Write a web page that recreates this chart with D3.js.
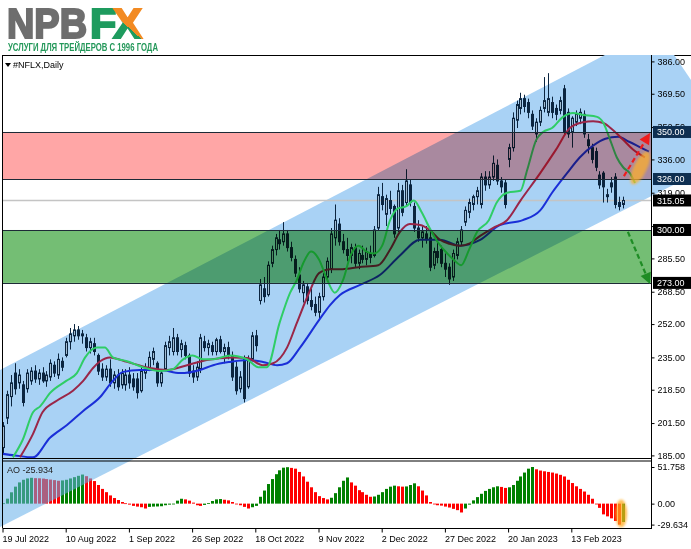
<!DOCTYPE html>
<html><head><meta charset="utf-8">
<script src="https://cdn.jsdelivr.net/npm/d3@7"></script>
<style>html,body{margin:0;padding:0;background:#fff;}svg{display:block;}text{font-family:"Liberation Sans",Arial,sans-serif;}</style>
</head><body><svg id="c" width="691" height="549"></svg>
<script>
// ---------- DATA ----------
const symbolLabel = "#NFLX,Daily";
const aoLabel = "AO -25.934";
const dateLabels = ["19 Jul 2022","10 Aug 2022","1 Sep 2022","26 Sep 2022","18 Oct 2022","9 Nov 2022","2 Dec 2022","27 Dec 2022","20 Jan 2023","13 Feb 2023"];
const dateLabelBars = [0,16,32,48,64,80,96,112,128,144];
const priceTicks = [386,369.5,352.5,336,319,302,285.5,268.5,252,235,218.5,201.5,185];
const aoTicks = [51.758,0,-29.634];
const redZone = [326,350];
const greenZone = [273,300];
const levels = [350,326,300,273];
const lastPrice = 315.05;

const open = [189,204,215,227,222,221,219,223,228,224,227,223,225,231,226,233,236,243,246,249,246,245,240,242,236,229,225,229,222,226,221,221,226,224,224,218,227,229,234,232,222,229,240,238,245,239,241,236,228,225,229,243,240,241,238,244,238,240,236,230,219,234,220,234,246,264,270,267,283,290,295,294,298,291,285,277,268,271,264,262,258,266,276,280,296,303,294,290,287,291,283,287,285,288,287,301,317,308,315,312,301,320,314,323,312,301,296,298,296,282,289,290,283,281,276,287,294,304,309,313,317,313,327,323,327,333,325,324,336,342,356,362,367,365,359,349,355,362,360,365,362,361,372,360,350,355,357,359,346,342,340,328,329,317,324,327,314,313];
const high = [202,218,226,232,229,223,229,230,231,229,230,228,234,233,237,235,245,250,252,251,249,247,245,245,237,232,231,234,228,229,229,229,230,227,227,230,232,238,240,233,229,243,246,250,247,244,243,237,231,233,247,246,244,243,245,246,242,243,238,233,228,236,236,248,249,275,276,284,292,298,300,304,300,294,287,281,274,273,270,266,268,278,286,301,313,306,298,296,293,293,290,292,291,292,302,322,324,318,320,313,324,323,331,326,314,305,302,302,299,291,294,292,288,283,290,296,302,312,316,318,322,329,330,330,338,336,327,326,344,360,366,370,369,367,361,357,363,378,380,368,364,368,374,362,358,361,362,361,349,344,342,330,330,321,327,329,317,317];
const low = [186,201,210,216,219,210,217,221,222,221,222,220,223,225,224,228,235,239,243,244,242,238,237,236,226,223,223,220,219,218,219,218,219,218,214,217,224,228,231,220,220,228,236,236,236,235,234,225,222,223,227,238,236,236,236,237,232,234,223,216,217,212,219,233,238,262,263,266,281,287,290,292,289,284,276,268,263,262,259,256,254,264,275,278,292,292,288,284,283,281,280,283,282,283,286,300,310,302,308,296,299,307,312,312,299,294,291,293,279,280,283,281,276,272,274,285,292,302,306,310,313,311,320,321,325,323,319,311,332,340,352,359,360,357,351,345,353,360,358,357,356,359,348,347,342,353,354,347,339,334,330,321,314,314,319,311,310,311];
const close = [200,216,222,219,226,212,227,228,224,227,223,226,232,227,234,230,243,247,249,246,247,240,243,238,228,225,229,222,226,220,227,226,222,220,217,228,229,235,238,222,227,241,243,245,238,242,236,227,225,230,245,240,242,238,244,238,240,236,225,218,225,214,234,246,241,272,266,282,290,296,293,298,291,286,278,270,272,264,261,258,266,276,284,298,305,294,290,287,291,283,288,285,289,286,300,318,313,316,311,298,320,309,325,314,301,296,299,295,281,289,286,283,280,275,288,294,300,310,314,317,320,327,323,327,334,325,322,313,342,357,364,367,363,360,353,355,361,366,367,360,359,366,350,349,357,359,360,349,343,336,332,323,322,318,322,313,312,315.05];

const ao = [0.5,7,16,24,30,33.7,35.6,36.5,36,35.8,35.4,34.7,34,33.2,32.3,32.8,33.7,35.6,37.4,39.3,41.1,38.8,35.6,31.9,26.3,20.8,16.2,11.6,7.9,5.1,2.3,0.5,-1.4,-3.2,-4.2,-5.1,-6.9,-4.6,-4.2,-4.0,-3.7,-2.3,-1.4,-0.5,4.2,6.9,6.0,4.2,1.4,-2.3,-3.2,-1.8,0.9,3.7,6.0,6.5,5.5,4.6,2.3,-0.5,-2.3,-4.6,-6.9,-5.1,-3.2,9.7,18.5,27.7,34.7,41.6,47.1,50.8,51.5,50.5,49.4,44.8,38.4,31,23.1,16.2,10.6,7.9,6,8.3,14.8,23.1,32.3,37,30,25.4,19,16.2,12.5,9.7,10.1,12.5,16.2,20.8,24,25.4,24.5,24,24.3,26.3,28.7,24.5,18.5,11.6,2.3,-0.9,-2.3,-2.8,-4.2,-5.5,-7.4,-9.2,-12.5,-6.9,-1.4,4.6,9.2,13.9,18,20.8,23.1,24.5,23.6,22.2,23.1,26.3,32.3,38.4,43.9,49.4,51.758,48.5,46.7,45.7,44.8,43.9,42.5,40.7,38.4,33.7,29.1,24.5,20.8,17.1,12.5,6.9,-0.5,-6,-15.2,-18,-20.8,-24.5,-29.634,-25.934];

// Alligator lines: [bar index, price]
const lips = [[2.5,184],[5,193],[7.6,207],[9.4,210],[12,217],[16,223],[18.7,227],[20.8,235],[23.8,240],[25.8,240],[27.8,235],[31.4,233],[35.4,230],[39.7,228],[43,229],[45.6,234],[48,236],[50.6,234],[53,234],[57.5,236],[61.8,234],[64.6,230],[66.8,230],[70,252.5],[72.7,268],[74.4,274.5],[76,283],[78,289],[80,285],[82,275],[84,268],[86,274],[88,287],[90,292],[92,289],[94,288],[96,292],[98,305],[100,311],[102,312],[104,315],[106,309],[108,301],[110,294],[112,289],[114,285],[116,282],[118,290],[120,299],[123,305],[125,314],[127.6,319],[131,320],[132.7,330.6],[135,346],[136.7,350],[139,352],[141.8,357.7],[144.3,359.7],[146.8,358.7],[150.4,357.7],[152,354.6],[153.7,346],[155.4,337],[157,332],[158.7,329],[160,324]];
const teeth = [[4.3,184],[7.6,196],[10,207],[13.7,213],[17.7,218],[20.3,223],[22.8,229.6],[24.6,233],[27,235],[31.4,232.7],[37.2,229.6],[41.5,228.6],[46.6,231],[51.6,233.7],[58.2,235],[61.8,234.7],[65.8,231],[68.4,232],[71.9,240],[74.4,252.6],[77.7,269],[80,278],[83,280],[86,280],[90,281],[95,282],[98,290],[100.5,299],[103,303],[105.6,302.5],[108,300],[110.6,295],[113,293],[115.7,292],[118,293],[120.8,297],[124,301],[127.6,305],[131,315],[136,329],[140,341],[143.5,352],[146.8,355],[149.4,355.5],[152,354.6],[154.4,351],[157,346],[159.5,341],[162.5,337]];
const jaw = [[-0.8,186],[3,185],[7.6,184],[11.9,194],[16.2,200.5],[20.3,207.7],[24.6,214.8],[27.8,223],[30.4,227.6],[34.7,228.6],[39.7,228.6],[44.8,227],[49.9,228.6],[53.2,231],[57.5,232.7],[61.8,233.7],[65.8,232.7],[69.4,231],[71.9,232],[75.2,240],[80,254],[82.8,261.7],[85.3,266.8],[90.4,272],[95.4,277],[100.5,287],[105.6,295],[110.6,295],[115.7,292],[120.8,295],[125.8,302.5],[131.6,305],[136,310],[139,319],[142.8,329],[146,337],[149.4,343],[152.5,346.5],[155.7,347.5],[158.5,345],[161.5,342],[163.5,340]];

// Channel edges & drawings (bar index, price)
const channelUpper = [[-0.76,228.6],[152.4,389.3]];
const channelLower = [[-0.76,148.5],[174.2,327.6]];
const channelEnd = [[169.9,389.3],[174.2,376.5]];
const upArrow = [[157.2,327.5],[163.8,349.5]];
const downArrow = [[158.2,299],[163.8,272.4]];
const highlight = [161.3,331.6];

// ---------- LAYOUT ----------
const svg = d3.select('#c');
const PL=3, PR=652, PT=56, PB=458, AT=460.5, AB=528;
const N = close.length;
const x = d3.scaleLinear().domain([0,N-1]).range([3,623.15]);
const y = d3.scaleLinear().domain([185,386]).range([455.4,61.4]);
const ya = d3.scaleLinear().domain([-29.634,51.758]).range([524.6,467]);
const navy = "#0b2540";

const defs = svg.append('defs');
defs.append('clipPath').attr('id','mainClip').append('rect').attr('x',PL).attr('y',PT).attr('width',PR-PL).attr('height',PB-PT);
defs.append('clipPath').attr('id','chanTop').append('rect').attr('x',0).attr('y',55).attr('width',691).attr('height',404.5);
defs.append('clipPath').attr('id','chanAO').append('rect').attr('x',0).attr('y',459.5).attr('width',691).attr('height',70);
const gr = defs.append('linearGradient').attr('id','xg').attr('gradientUnits','userSpaceOnUse')
  .attr('x1',114).attr('y1',38).attr('x2',142).attr('y2',7);
gr.append('stop').attr('offset','0.42').attr('stop-color','#1e9b5e');
gr.append('stop').attr('offset','0.42').attr('stop-color','#f28a22');
defs.append('filter').attr('id','soft').append('feGaussianBlur').attr('stdDeviation',0.8);

svg.append('rect').attr('width',691).attr('height',549).attr('fill','#fff');
svg.append('line').attr('x1',PL).attr('x2',691).attr('y1',PT-0.5).attr('y2',PT-0.5).attr('stroke','#000');

// channel polygon
function toPx(p){return [x(p[0]),y(p[1])];}
function lineOf(a,b){const A=toPx(a),B=toPx(b);const m=(B[1]-A[1])/(B[0]-A[0]);return {m:m,c:A[1]-m*A[0]};}
function inter(l1,l2){const X=(l2.c-l1.c)/(l1.m-l2.m);return [X,l1.m*X+l1.c];}
const LU=lineOf(channelUpper[0],channelUpper[1]), LL=lineOf(channelLower[0],channelLower[1]), LE=lineOf(channelEnd[0],channelEnd[1]);
const X0=-10;
const poly=[[X0,LU.m*X0+LU.c],inter(LU,LE),inter(LL,LE),[X0,LL.m*X0+LL.c]];
svg.append('polygon').attr('points',poly.map(p=>p.join(',')).join(' ')).attr('fill','#a9d2f5').attr('clip-path','url(#chanTop)');

const main = svg.append('g').attr('clip-path','url(#mainClip)');
main.append('line').attr('x1',PL).attr('x2',PR).attr('y1',y(lastPrice)).attr('y2',y(lastPrice)).attr('stroke','#c4c4c4').attr('stroke-width',1.5);

// candles
const cg = main.append('g');
const idx = d3.range(N);
cg.selectAll('line.w').data(idx).join('line').attr('class','w')
  .attr('x1',i=>Math.round(x(i))+0.5).attr('x2',i=>Math.round(x(i))+0.5)
  .attr('y1',i=>y(high[i])).attr('y2',i=>y(low[i])).attr('stroke',navy).attr('stroke-width',1);
cg.selectAll('rect.b').data(idx).join('rect').attr('class','b')
  .attr('x',i=>Math.round(x(i))-0.5).attr('width',2)
  .attr('y',i=>y(Math.max(open[i],close[i])))
  .attr('height',i=>Math.max(0.5,Math.abs(y(open[i])-y(close[i]))))
  .attr('fill',i=>close[i]>=open[i]?'#a3bdd2':navy).attr('stroke',navy).attr('stroke-width',1);

// alligator
const ln = d3.line().x(d=>x(d[0])).y(d=>y(d[1])).curve(d3.curveMonotoneX);
[[jaw,'#1a2fd8'],[teeth,'#9a2648'],[lips,'#2fcd66']].forEach(([d,c])=>{
  main.append('path').attr('d',ln(d)).attr('fill','none').attr('stroke',c).attr('stroke-width',2);
});

// zones (multiply)
svg.append('rect').attr('x',PL).attr('width',PR-PL-0.5).attr('y',y(redZone[1])).attr('height',y(redZone[0])-y(redZone[1]))
  .attr('fill','#ffa6a6').style('mix-blend-mode','multiply');
svg.append('rect').attr('x',PL).attr('width',PR-PL-0.5).attr('y',y(greenZone[1])).attr('height',y(greenZone[0])-y(greenZone[1]))
  .attr('fill','#74be74').style('mix-blend-mode','multiply');
levels.forEach(v=>{
  svg.append('line').attr('x1',PL).attr('x2',PR).attr('y1',Math.round(y(v))+0.5).attr('y2',Math.round(y(v))+0.5).attr('stroke','#1d2a36').attr('stroke-width',1);
});

// highlight ellipse + arrows
const hp = toPx(highlight);
svg.append('ellipse').attr('cx',hp[0]).attr('cy',hp[1]).attr('rx',18).attr('ry',6.5)
  .attr('transform',`rotate(-64 ${hp[0]} ${hp[1]})`).attr('fill','rgba(255,176,40,0.72)').attr('filter','url(#soft)');
function arrow(pts,color){
  const a=toPx(pts[0]), b=toPx(pts[1]);
  const dx=b[0]-a[0], dy=b[1]-a[1], L=Math.hypot(dx,dy), ux=dx/L, uy=dy/L;
  const hl=11, hw=5.5;
  const bx=b[0]-ux*hl, by=b[1]-uy*hl;
  svg.append('line').attr('x1',a[0]).attr('y1',a[1]).attr('x2',bx).attr('y2',by).attr('stroke',color).attr('stroke-width',2.2).attr('stroke-dasharray','5,3');
  svg.append('polygon').attr('points',[[b[0],b[1]],[bx-uy*hw,by+ux*hw],[bx+uy*hw,by-ux*hw]].map(p=>p.join(',')).join(' ')).attr('fill',color);
}
arrow(upArrow,'#ee1c1c');
arrow(downArrow,'#1e8c24');

// AO bars
const ag = svg.append('g');
ag.selectAll('rect').data(idx).join('rect')
  .attr('x',i=>Math.round(x(i))-1).attr('width',3)
  .attr('y',i=>Math.min(ya(0),ya(ao[i]))).attr('height',i=>Math.max(0.8,Math.abs(ya(ao[i])-ya(0))))
  .attr('fill',i=>(i===0||ao[i]>ao[i-1])?'#008000':'#ff0000');
svg.append('ellipse').attr('cx',x(156.5)).attr('cy',ya(-14)).attr('rx',6).attr('ry',14)
  .attr('fill','rgba(255,170,30,0.72)').attr('filter','url(#soft)');
svg.append('polygon').attr('points',poly.map(p=>p.join(',')).join(' ')).attr('fill','#64aeea').attr('opacity',0.55).attr('clip-path','url(#chanAO)');

// frames
const fr = svg.append('g').attr('stroke','#000').attr('stroke-width',1).attr('fill','none');
fr.append('line').attr('x1',PL-0.5).attr('x2',PL-0.5).attr('y1',PT-1).attr('y2',AB+0.5);
fr.append('line').attr('x1',PR-0.5).attr('x2',PR-0.5).attr('y1',PT-1).attr('y2',AB+0.5);
fr.append('line').attr('x1',PL).attr('x2',PR).attr('y1',PB+0.5).attr('y2',PB+0.5);
fr.append('line').attr('x1',PL).attr('x2',PR).attr('y1',AT+0.5).attr('y2',AT+0.5);
fr.append('line').attr('x1',PL).attr('x2',PR).attr('y1',AB+0.5).attr('y2',AB+0.5);

// price axis (labels fully hidden under a level box are not drawn)
const boxVals = levels.concat([lastPrice]);
const pa = svg.append('g').attr('transform',`translate(${PR-0.5},0)`)
  .call(d3.axisRight(y).tickValues(priceTicks).tickFormat(d=>boxVals.some(v=>Math.abs(y(v)-y(d))<4.5)?'':d3.format('.2f')(d)).tickSize(3).tickPadding(3));
pa.select('.domain').remove();
pa.selectAll('text').attr('font-size',9).attr('fill','#000').attr('font-family','Liberation Sans, Arial, sans-serif');
pa.selectAll('line').attr('stroke','#000');
const boxes = levels.map(v=>({v:v,c:v>lastPrice?'#0f3052':'#000'})).concat([{v:lastPrice,c:'#000'}]);
boxes.forEach(b=>{
  const yy=y(b.v);
  svg.append('rect').attr('x',PR+1).attr('y',yy-6).attr('width',691-PR-1).attr('height',12).attr('fill',b.c);
  svg.append('text').attr('x',PR+5).attr('y',yy).attr('dy','0.35em').attr('font-size',9).attr('fill','#fff').text(d3.format('.2f')(b.v));
});
const aa = svg.append('g').attr('transform',`translate(${PR-0.5},0)`)
  .call(d3.axisRight(ya).tickValues(aoTicks).tickFormat(d=>d===0?'0.00':String(d)).tickSize(3).tickPadding(3));
aa.select('.domain').remove();
aa.selectAll('text').attr('font-size',9).attr('fill','#000').attr('font-family','Liberation Sans, Arial, sans-serif');
aa.selectAll('line').attr('stroke','#000');

// date axis
const da = svg.append('g').attr('transform',`translate(0,${AB+0.5})`)
  .call(d3.axisBottom(x).tickValues(dateLabelBars).tickFormat((d,i)=>dateLabels[i]).tickSize(4).tickPadding(3));
da.select('.domain').remove();
da.selectAll('.tick line').attr('stroke','#000').attr('transform','translate(-0.5,0)');
da.selectAll('text').attr('font-size',9).attr('fill','#000').attr('text-anchor','start').attr('dx','-1').attr('font-family','Liberation Sans, Arial, sans-serif');

// labels
svg.append('path').attr('d','M5,63 L11,63 L8,67 Z').attr('fill','#000');
svg.append('text').attr('x',13).attr('y',68).attr('font-size',9).attr('fill','#000').text(symbolLabel);
svg.append('text').attr('x',7).attr('y',473).attr('font-size',9).attr('fill','#222').text(aoLabel);

// logo (one text element, tspans)
const logo = svg.append('text').attr('font-weight','bold');
logo.append('tspan').attr('x',7).attr('y',38).attr('font-size',43).attr('textLength',80).attr('lengthAdjust','spacingAndGlyphs')
  .attr('fill','#6e6e6e').attr('stroke','#6e6e6e').attr('stroke-width',2.2).text('NPB');
logo.append('tspan').attr('x',90).attr('y',38).attr('font-size',43).attr('fill','#1e9b5e').attr('stroke','#1e9b5e').attr('stroke-width',2.2).text('F');
logo.append('tspan').attr('dx',-3).attr('font-size',43).attr('fill','url(#xg)').attr('stroke','url(#xg)').attr('stroke-width',2.2).text('X');
logo.append('tspan').attr('x',8).attr('y',51).attr('font-size',11.5).attr('fill','#24985a').attr('stroke','none')
  .attr('textLength',150).attr('lengthAdjust','spacingAndGlyphs').text('УСЛУГИ ДЛЯ ТРЕЙДЕРОВ С 1996 ГОДА');
</script></body></html>
